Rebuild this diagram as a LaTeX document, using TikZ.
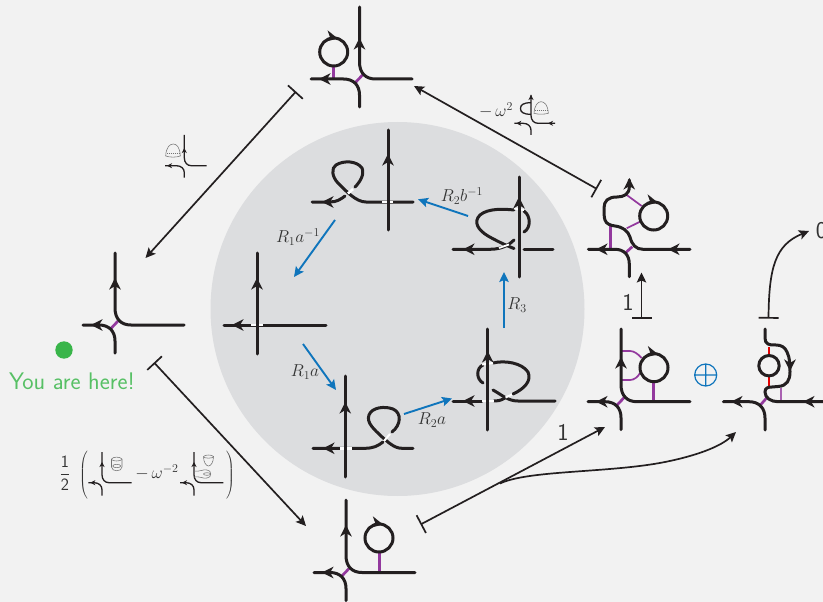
\documentclass[tikz,border=0pt]{standalone}
\usepackage{fix-cm}
\usetikzlibrary{arrows.meta}
\definecolor{bgc}{HTML}{F2F2F2}
\definecolor{disc}{HTML}{DCDDDF}
\definecolor{ink}{HTML}{231F20}
\definecolor{plink}{HTML}{93399E}
\definecolor{blu}{HTML}{0F75BC}
\definecolor{grn}{HTML}{39B54A}
\definecolor{txt}{HTML}{333333}
\tikzset{
  strand/.style={draw=ink,line width=3pt,line cap=round},
  gapw/.style={draw=white,line width=2.6pt},
  link/.style={draw=plink,line width=2.7pt},
  linkthin/.style={draw=plink,line width=1.7pt},
  ttip/.style={draw=ink,line width=2.3pt,-{Stealth[length=11.5pt,width=11.5pt,inset=3.5pt]}},
  conn/.style={draw=ink,line width=1.7pt},
  bluearrow/.style={draw=blu,line width=1.9pt,-{Stealth[length=10pt,width=9.5pt,inset=2pt]}},
  bararrow/.style={conn,{Bar[width=20pt,line width=1.7pt]}-{Stealth[length=10pt,width=9.5pt,inset=2pt]}},
  mini/.style={draw=ink,line width=1.3pt},
  minitip/.style={draw=ink,line width=.8pt,-{Stealth[length=5pt,width=5pt,inset=1.5pt]}},
  fine/.style={draw=black!55,line width=.55pt},
  lab/.style={text=txt,inner sep=0pt,font=\fontsize{17.28}{19}\selectfont},
  big/.style={text=txt,inner sep=0pt,font=\fontsize{24}{26}\selectfont\sffamily},
}
% tangle: vertical x, horizontal y, left, right, top, arrow tip y
\newcommand{\tng}[6]{%
  \draw[link] (#1-5,#2+4.5) -- (#1+3,#2-4);
  \draw[strand] (#1,#5) -- (#1,#2-17) .. controls (#1,#2-6) and (#1+6,#2) .. (#1+16,#2) -- (#4,#2);
  \draw[strand] (#3,#2) -- (#1-16,#2) .. controls (#1-6,#2) and (#1,#2+6) .. (#1,#2+16) -- (#1,#2+28);
  \draw[ttip] (#1,#6+3) -- (#1,#6);
}
\newcommand{\ltip}[2]{\draw[ttip] (#1+3,#2) -- (#1,#2);}
\newcommand{\loopc}[3]{\draw[strand] (#1,#2) circle (#3);
  \draw[ttip] (#1-3,#2-#3-1) -- (#1+4,#2-#3+.5);}
% mini: vx, hy, left, right, top, bottom, up-arrow tip y
\newcommand{\mnt}[7]{%
  \draw[mini] (#1,#5) -- (#1,#2-8) .. controls (#1,#2-3) and (#1+3,#2) .. (#1+7,#2) -- (#4,#2);
  \draw[mini] (#3,#2) -- (#1-8,#2) .. controls (#1-3,#2) and (#1,#2+3) .. (#1,#2+7) -- (#1,#6);
  \draw[minitip] (#1,#7+4) -- (#1,#7);
  \draw[minitip] (#3+6,#2) -- (#3+2,#2);
}
\begin{document}
\begin{tikzpicture}[x=1pt,y=-1pt]
\useasboundingbox (0,0) rectangle (823,602);
\fill[bgc] (0,0) rectangle (823,602);
\fill[disc] (397.5,309) circle (187);

% coordinates of connector ends
\coordinate (tlS) at (296,91.5); \coordinate (tlE) at (145.5,258);
\coordinate (lbS) at (154,362.5); \coordinate (lbE) at (306,526);
\coordinate (rtS) at (597,189); \coordinate (rtE) at (414,86);
\coordinate (brS) at (420.5,524.5); \coordinate (brE) at (605,427);
\coordinate (brB) at (500,483.5); \coordinate (brF) at (736,432);
\coordinate (upS) at (641.5,318.7); \coordinate (upE) at (641.5,272.5);
\coordinate (zrS) at (768.5,318.7); \coordinate (zrE) at (809,231);
\coordinate (b1S) at (335,220); \coordinate (b1E) at (294,277);
\coordinate (b2S) at (303,344); \coordinate (b2E) at (336,390);
\coordinate (b3S) at (404,414); \coordinate (b3E) at (452,398.5);
\coordinate (b4S) at (504,328); \coordinate (b4E) at (504,272);
\coordinate (b5S) at (468,216); \coordinate (b5E) at (418,199.3);

% outer tangles
% top
\draw[link] (333.5,66) -- (333.5,79);
\tng{359.5}{79}{311}{412}{7}{38}
\ltip{319}{79}
\loopc{333.7}{52}{14}
% left
\tng{115}{325}{83}{184}{253}{278}
\ltip{91}{325}
% bottom
\draw[link] (379.3,552) -- (379.3,572.5);
\tng{346}{572.5}{314}{415}{500}{525}
\ltip{322}{572.5}
\loopc{379}{538}{14}

% upper right tangle
\draw[link] (610.7,225) -- (610.7,249.3);
\draw[link] (625,253.3) -- (632.3,246.7);
\draw[linkthin] (626.7,195) -- (641.7,206);
\draw[linkthin] (626.7,228.3) -- (640,221.7);
\draw[strand] (629.3,180) -- (629.3,187) .. controls (629.3,194) and (624,197) .. (617,197) .. controls (608,197) and (604,201) .. (604,208) .. controls (604,213) and (604,217) .. (605,220) .. controls (606,224) and (611,225.5) .. (615,226) .. controls (623,227) and (628,231) .. (630,237) .. controls (632,245) and (636,249.3) .. (643,249.3) -- (690,249.3);
\draw[strand] (588.3,249.3) -- (615,249.3) .. controls (624,249.3) and (629.3,255) .. (629.3,264) -- (629.3,276.7);
\draw[ttip] (629.3,181) -- (629.3,178);
\ltip{596}{249.3}
\ltip{668}{249.3}
\loopc{653.7}{216}{14}

% lower right left summand
\draw[linkthin] (621,351) -- (630,351) .. controls (634,351) and (638,354) .. (641.7,358);
\draw[linkthin] (621,380) -- (630,380) .. controls (634,380) and (638,377) .. (640,373);
\draw[link] (653.3,381) -- (653.3,401.7);
\tng{621}{401.7}{588}{690}{329}{357}
\ltip{596}{401.7}
\loopc{654}{367.7}{14}

% lower right, right summand
\draw[link] (760,405.5) -- (767.5,397);
\draw[draw=plink!80,line width=2.4pt] (781,388) -- (781,401.7);
\draw[draw=red!90!black,line width=2.7pt] (769,347) -- (769,356) (769,375) -- (769,386);
\draw[strand] (723.3,401.7) -- (749,401.7) .. controls (759,401.7) and (765,408) .. (765,418) -- (765,430);
\draw[strand] (823,401.7) -- (778,401.7) .. controls (771,401.7) and (765,398) .. (765,392) .. controls (765,388) and (768,387) .. (772,387) -- (778,386.5) .. controls (787,386) and (790,380) .. (790,372) .. controls (790,365) and (790,358) .. (787,352) .. controls (785,347) and (781,345) .. (776,345) .. controls (769,345.5) and (765,344) .. (765,338) -- (765,329);
\draw[strand] (769,365.7) circle (10.2);
\draw[ttip] (790,367) -- (790,371);
\ltip{731}{401.7}
\ltip{803}{401.7}

% oplus
\draw[blu,line width=1.2pt] (705.7,375) circle (11) (694.7,375) -- (716.7,375) (705.7,364) -- (705.7,386);

% connectors
\draw[bararrow] (tlS) -- (tlE);
\draw[bararrow] (lbS) -- (lbE);
\draw[bararrow] (rtS) -- (rtE);
\draw[bararrow] (brS) -- (brE);
\draw[conn,-{Stealth[length=10pt,width=9.5pt,inset=2pt]}] (brB) .. controls (528,470) and (610,473) .. (665,462) .. controls (695,456) and (720,447) .. (brF);
\draw[bararrow] (upS) -- (upE);
\draw[bararrow] (zrS) .. controls (769,268) and (775,245) .. (zrE);
\draw[bluearrow] (b1S) -- (b1E);
\draw[bluearrow] (b2S) -- (b2E);
\draw[bluearrow] (b3S) -- (b3E);
\draw[bluearrow] (b4S) -- (b4E);
\draw[bluearrow] (b5S) -- (b5E);

% inner: left
\draw[strand] (224,325) -- (326,325);
\draw[gapw] (251,325) -- (263,325);
\draw[strand] (257,253) -- (257,354);
\draw[ttip] (257,281) -- (257,278);
\ltip{232}{325}
% inner: top
\draw[strand] (413,202) -- (366,202) .. controls (356,202) and (346,191) .. (338,183) .. controls (332,177) and (331,168) .. (336,165) .. controls (344,160) and (357,161) .. (362,168) .. controls (365,175) and (359,183) .. (355,187);
\draw[strand] (345,196) .. controls (341,199) and (337,202) .. (330,202) -- (312,202);
\draw[gapw] (348,193.5) -- (353,189);
\draw[gapw] (382,202) -- (393,202);
\draw[strand] (388,130) -- (388,230);
\draw[ttip] (388,157) -- (388,154);
\ltip{322}{202}
% inner: right
\draw[strand] (553,249.3) -- (524,249.3);
\draw[strand] (514,248.5) .. controls (505,245) and (495,240) .. (488,236) .. controls (478,230) and (473,222) .. (480,215) .. controls (488,208) and (505,209) .. (514,210);
\draw[strand] (524,211) .. controls (531,216) and (531,228) .. (524,232);
\draw[strand] (514,240) .. controls (510,244) and (503,249.3) .. (490,249.3) -- (453,249.3);
\draw[gapw,line width=1.8pt] (499,248) -- (509,244.5);
\draw[gapw,line width=2pt] (514,208.5) -- (524,210);
\draw[strand] (519,177) -- (519,277);
\draw[ttip] (519,200) -- (519,197);
\ltip{463}{249.3}
% inner: lower right
\draw[strand] (555,401) -- (518,401) .. controls (508,401) and (502,395) .. (493,390);
\draw[strand] (483,383) .. controls (476,379) and (476,368) .. (483,365);
\draw[strand] (493,363) .. controls (505,360) and (522,363) .. (528,372) .. controls (532,381) and (524,389) .. (513,394);
\draw[strand] (505,398) .. controls (500,401) and (497,401) .. (494,401);
\draw[strand] (482,401) -- (453,401);
\draw[gapw,line width=2pt] (482,364.5) -- (493,363);
\draw[gapw,line width=2pt] (505.5,397.5) -- (512,394.5);
\draw[gapw,line width=2pt] (482,401) -- (494,401);
\draw[strand] (487.7,329) -- (487.7,430);
\draw[ttip] (487.7,354) -- (487.7,351);
\ltip{463}{401}
% inner: lower left
\draw[strand] (413,448.3) -- (402,448.3) .. controls (394,448.3) and (388,442) .. (381,436) .. controls (375,430) and (366,423) .. (369,415) .. controls (372,407) and (385,406) .. (393,409) .. controls (402,413) and (401,425) .. (392,432);
\draw[strand] (383,442) .. controls (378,446) and (373,448.3) .. (365,448.3) -- (313,448.3);
\draw[gapw,line width=2pt] (384,441) -- (390,434);
\draw[gapw] (340,448.3) -- (352,448.3);
\draw[strand] (345.3,376) -- (345.3,477);
\draw[ttip] (345.3,405) -- (345.3,402);
\ltip{323}{448.3}

% labels
\node[lab] (l1) at (298,237) {$R_1a^{-1}$};
\node[lab] (l2) at (305,372) {$R_1a$};
\node[lab] (l3) at (432,420) {$R_2a$};
\node[lab] (l4) at (517,305) {$R_3$};
\node[lab] (l5) at (462,196) {$R_2b^{-1}$};
\node[big] (one1) at (563,432) {1};
\node[big] (one2) at (628,302) {1};
\node[big] (zero) at (821.5,231) {0};

% you are here
\fill[grn] (64,350) circle (8.7);
\node[inner sep=0pt,text=grn!85!white,font=\fontsize{24}{26}\selectfont\sffamily] (here) at (72,381) {You are here!};

% mini 1
\mnt{184.3}{165.7}{165}{206.7}{135}{177.7}{148}
\draw[fine] (165.7,156) .. controls (166,147) and (170,144) .. (173.3,144) .. controls (176.5,144) and (180,147) .. (180.3,156) .. controls (176,157.5) and (170,157.5) .. cycle;
\draw[fine,dash pattern=on 1pt off 1pt] (166.5,153.3) -- (180,153.3);

% mini 2
\node[lab] (mw) at (496,110) {$-\,\omega^2$};
\mnt{531}{123.3}{514.3}{555}{95}{135}{95}
\draw[mini] (531,102.7) .. controls (523,102.7) and (520.5,105) .. (520.5,108.5) .. controls (520.5,112) and (523,114.3) .. (531,114.3);
\draw[minitip] (552,123.3) -- (548,123.3);
\draw[fine] (534,113.3) .. controls (534.5,105) and (538,101.7) .. (541,101.7) .. controls (544.5,101.7) and (548,105) .. (548.3,113.3) .. controls (544,114.5) and (538,114.5) .. cycle;
\draw[fine,dash pattern=on 1pt off 1pt] (534.5,110) -- (548,110);

% fraction and brackets
\node[lab] (half) at (65,473) {$\displaystyle\frac{\textsf{1}}{\textsf{2}}$};
\node[lab] (lp) at (84,475) {$\left(\vrule height 19pt depth 19pt width 0pt\right.$};
\node[lab] (rp) at (230,475) {$\left.\vrule height 19pt depth 19pt width 0pt\right)$};
\node[lab] (mw2) at (157,472) {$-\,\omega^{-2}$};
\mnt{102}{482.7}{88.3}{131.7}{452}{495.7}{462}
\mnt{194}{482.7}{180}{223.3}{452}{495.7}{462}
% blobs
\draw[fine] (111.5,459) .. controls (113,456.5) and (120,456.5) .. (122,459) (111.5,459) -- (111.5,467) .. controls (111.5,472) and (122,472) .. (122,467) -- (122,459);
\draw[fine] (111.5,459.5) .. controls (113,461.5) and (120,461.5) .. (122,459.5);
\draw[fine] (116.7,466) ellipse (4 and 1.7);
\draw[fine] (203.5,456.5) .. controls (205,454.5) and (212,454.5) .. (213.5,456.5) .. controls (213.5,462) and (211,466) .. (208.5,466) .. controls (206,466) and (203.5,462) .. (203.5,456.5);
\draw[fine] (203.5,457) .. controls (205,458.5) and (212,458.5) .. (213.5,457);
\draw[fine] (194,471) .. controls (200,472) and (203,469) .. (207,470) .. controls (212,470) and (212,478) .. (207,478) .. controls (203,479) and (200,476) .. (194,477);
\draw[fine] (207,474) ellipse (3.5 and 1.3);
\end{tikzpicture}
\end{document}
